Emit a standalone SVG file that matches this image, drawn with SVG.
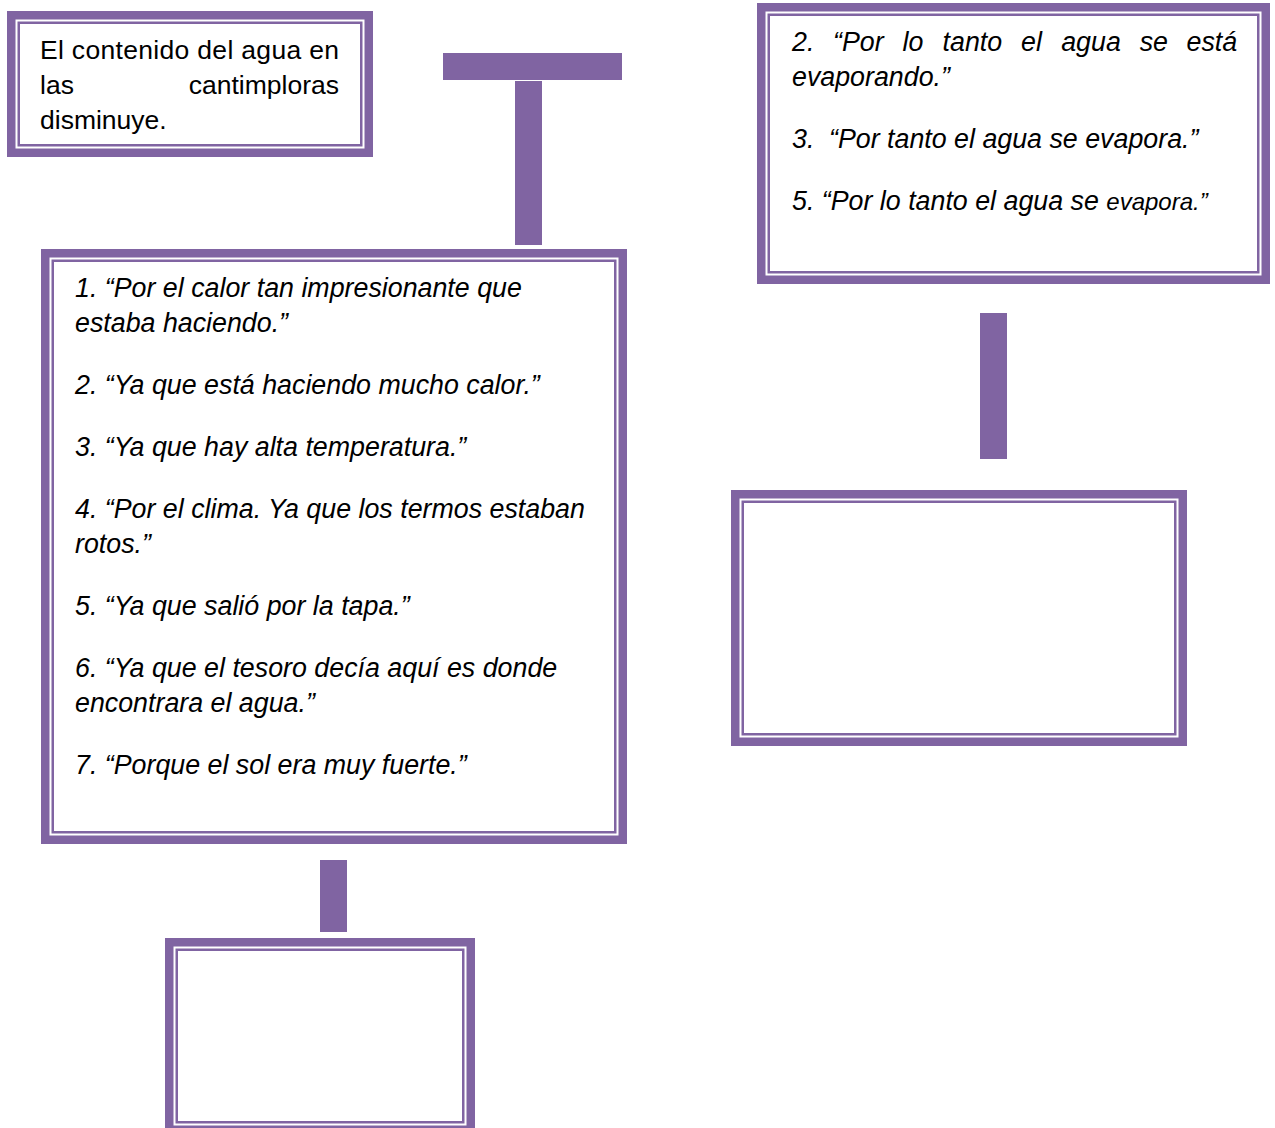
<svg xmlns="http://www.w3.org/2000/svg" width="1275" height="1128" viewBox="0 0 1275 1128">
<style>
.band{fill:#ffffff;stroke:#8064a2;stroke-width:8.5}
.inner{fill:none;stroke:#8064a2;stroke-width:2.5}
.bar{fill:#8064a2}
text{font-family:"Liberation Sans",Arial,sans-serif;font-size:26.5px;fill:#000000}
.it{font-style:italic;font-size:26.8px}
</style>
<rect width="1275" height="1128" fill="#ffffff"/>
<g id="connectors">
<rect class="bar" x="443" y="53" width="179" height="27"/>
<rect class="bar" x="515" y="81" width="27" height="164"/>
<rect class="bar" x="980" y="313" width="27" height="146"/>
<rect class="bar" x="320" y="860" width="27" height="72"/>
</g>
<g id="node-contenido">
<rect class="band" x="11.25" y="15.25" width="357.5" height="137.5"/>
<rect class="inner" x="18.75" y="22.75" width="342.5" height="122.5"/>
<text x="40" y="59" textLength="299" lengthAdjust="spacing">El contenido del agua en</text>
<text x="40" y="94">las</text>
<text x="339" y="94" text-anchor="end">cantimploras</text>
<text x="40" y="129">disminuye.</text>
</g>
<g id="node-evapora">
<rect class="band" x="761.25" y="7.25" width="504.5" height="272.5"/>
<rect class="inner" x="768.75" y="14.75" width="489.5" height="257.5"/>
<text class="it" y="51"><tspan x="792">2.</tspan><tspan x="833">“Por</tspan><tspan x="902.5">lo</tspan><tspan x="942.6">tanto</tspan><tspan x="1021.1">el</tspan><tspan x="1061.2">agua</tspan><tspan x="1139.7">se</tspan><tspan x="1186.5">está</tspan></text>
<text class="it" x="792" y="86">evaporando.”</text>
<text class="it" y="148"><tspan x="792">3.</tspan><tspan x="829">“Por tanto el agua se evapora.”</tspan></text>
<text class="it" x="792" y="210">5. “Por lo tanto el agua se <tspan font-size="24">evapora.”</tspan></text>
</g>
<g id="node-razones">
<rect class="band" x="45.25" y="253.25" width="577.5" height="586.5"/>
<rect class="inner" x="52.75" y="260.75" width="562.5" height="571.5"/>
<text class="it" x="75" y="297">1. “Por el calor tan impresionante que</text>
<text class="it" x="75" y="332">estaba haciendo.”</text>
<text class="it" x="75" y="394">2. “Ya que está haciendo mucho calor.”</text>
<text class="it" x="75" y="456">3. “Ya que hay alta temperatura.”</text>
<text class="it" x="75" y="518">4. “Por el clima. Ya que los termos estaban</text>
<text class="it" x="75" y="553">rotos.”</text>
<text class="it" x="75" y="615">5. “Ya que salió por la tapa.”</text>
<text class="it" x="75" y="677">6. “Ya que el tesoro decía aquí es donde</text>
<text class="it" x="75" y="712">encontrara el agua.”</text>
<text class="it" x="75" y="774">7. “Porque el sol era muy fuerte.”</text>
</g>
<g id="node-derecha-vacio">
<rect class="band" x="735.25" y="494.25" width="447.5" height="247.5"/>
<rect class="inner" x="742.75" y="501.75" width="432.5" height="232.5"/>
</g>
<g id="node-abajo-vacio">
<rect class="band" x="169.25" y="942.25" width="301.5" height="187.5"/>
<rect class="inner" x="176.75" y="949.75" width="286.5" height="172.5"/>
</g>
</svg>
